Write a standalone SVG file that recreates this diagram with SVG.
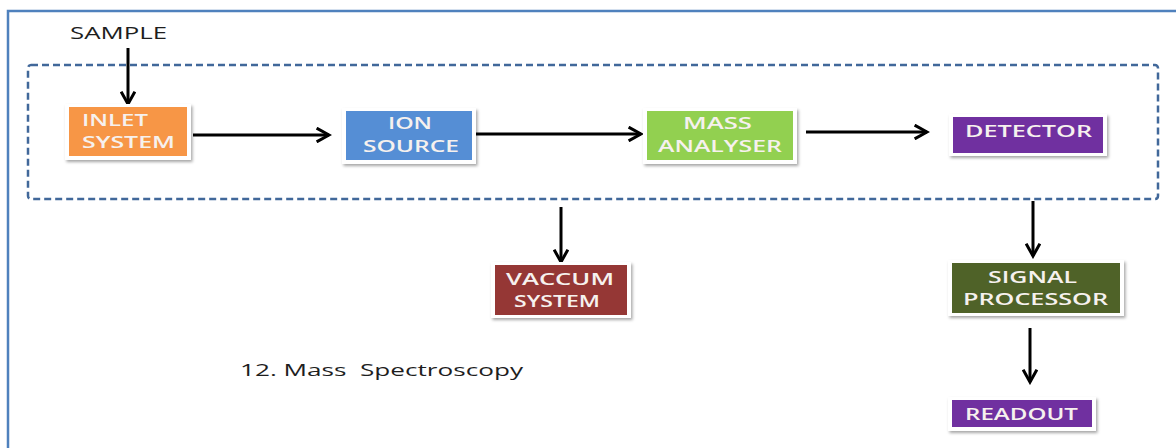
<svg xmlns="http://www.w3.org/2000/svg" width="1176" height="448" viewBox="0 0 1176 448">
  <defs>
    <style>
      .frame { stroke: #4F81BD; stroke-width: 2.5; fill: none; }
      .group { stroke: #41689A; stroke-width: 2.5; stroke-dasharray: 7 4; fill: none; }
      .edge { stroke: #000; stroke-width: 3; fill: none; marker-end: url(#head); }
      .pad { fill: #fff; filter: url(#shadow); }
      .lbl { font-family: "Open Sans", "Liberation Sans", sans-serif; font-size: 15.5px; font-weight: 600; fill: #F6F1EE; }
      .plain { font-family: "Open Sans", "Liberation Sans", sans-serif; font-size: 16px; font-weight: 500; fill: #1e1e1e; }
    </style>
    <marker id="head" viewBox="0 0 12 12" refX="10" refY="6" markerWidth="5.5" markerHeight="5.5" orient="auto" markerUnits="strokeWidth">
      <path d="M1,1 L10,6 L1,11" fill="none" stroke="#000" stroke-width="2.2"/>
    </marker>
    <filter id="shadow" x="-10%" y="-20%" width="125%" height="150%">
      <feDropShadow dx="1.5" dy="2" stdDeviation="1.5" flood-color="#000" flood-opacity="0.35"/>
    </filter>
  </defs>

  <!-- page frame -->
  <path class="frame" d="M8,448 L8,11 L1176,11"/>

  <!-- dashed enclosure -->
  <rect class="group" x="28" y="65" width="1130" height="134" rx="3"/>

  <!-- connectors -->
  <g id="connectors">
    <line class="edge" x1="128" y1="48" x2="128" y2="104"/>
    <line class="edge" x1="193" y1="135" x2="329" y2="135"/>
    <line class="edge" x1="474" y1="134" x2="641" y2="134"/>
    <line class="edge" x1="806" y1="132" x2="927" y2="132"/>
    <line class="edge" x1="561" y1="207" x2="561" y2="262"/>
    <line class="edge" x1="1033" y1="201" x2="1033" y2="256"/>
    <line class="edge" x1="1030" y1="328" x2="1030" y2="382"/>
  </g>

  <text class="plain" x="70" y="39" textLength="97" lengthAdjust="spacingAndGlyphs">SAMPLE</text>

  <g id="inlet">
    <rect class="pad" x="65" y="104" width="126" height="56"/>
    <rect x="69" y="107" width="118" height="49" fill="#F79646"/>
    <text class="lbl" x="82" y="126" textLength="66" lengthAdjust="spacingAndGlyphs">INLET</text>
    <text class="lbl" x="82" y="148" textLength="93" lengthAdjust="spacingAndGlyphs">SYSTEM</text>
  </g>

  <g id="ion-source">
    <rect class="pad" x="342" y="108" width="134" height="56"/>
    <rect x="346" y="111" width="126" height="49" fill="#558ED5"/>
    <text class="lbl" x="388" y="129" textLength="44" lengthAdjust="spacingAndGlyphs">ION</text>
    <text class="lbl" x="363" y="152" textLength="96" lengthAdjust="spacingAndGlyphs">SOURCE</text>
  </g>

  <g id="mass-analyser">
    <rect class="pad" x="643" y="108" width="154" height="56"/>
    <rect x="647" y="111" width="146" height="49" fill="#92D050"/>
    <text class="lbl" x="683" y="129" textLength="69" lengthAdjust="spacingAndGlyphs">MASS</text>
    <text class="lbl" x="658" y="152" textLength="124" lengthAdjust="spacingAndGlyphs">ANALYSER</text>
  </g>

  <g id="detector">
    <rect class="pad" x="949" y="114" width="158" height="42"/>
    <rect x="953" y="117" width="150" height="36" fill="#7030A0"/>
    <text class="lbl" x="965" y="137" textLength="127" lengthAdjust="spacingAndGlyphs">DETECTOR</text>
  </g>

  <g id="vaccum-system">
    <rect class="pad" x="491" y="262" width="140" height="56"/>
    <rect x="495" y="265" width="132" height="50" fill="#953735"/>
    <text class="lbl" x="506" y="285" textLength="108" lengthAdjust="spacingAndGlyphs">VACCUM</text>
    <text class="lbl" x="514" y="307" textLength="86" lengthAdjust="spacingAndGlyphs">SYSTEM</text>
  </g>

  <g id="signal-processor">
    <rect class="pad" x="948" y="260" width="176" height="56"/>
    <rect x="952" y="263" width="168" height="50" fill="#4F6228"/>
    <text class="lbl" x="988" y="283" textLength="89" lengthAdjust="spacingAndGlyphs">SIGNAL</text>
    <text class="lbl" x="963" y="305" textLength="145" lengthAdjust="spacingAndGlyphs">PROCESSOR</text>
  </g>

  <g id="readout">
    <rect class="pad" x="948" y="397" width="148" height="34"/>
    <rect x="952" y="400" width="140" height="27" fill="#7030A0"/>
    <text class="lbl" x="965" y="420" textLength="113" lengthAdjust="spacingAndGlyphs">READOUT</text>
  </g>

  <text class="plain" x="240" y="376" textLength="283" lengthAdjust="spacingAndGlyphs" xml:space="preserve">12. Mass  Spectroscopy</text>
</svg>
